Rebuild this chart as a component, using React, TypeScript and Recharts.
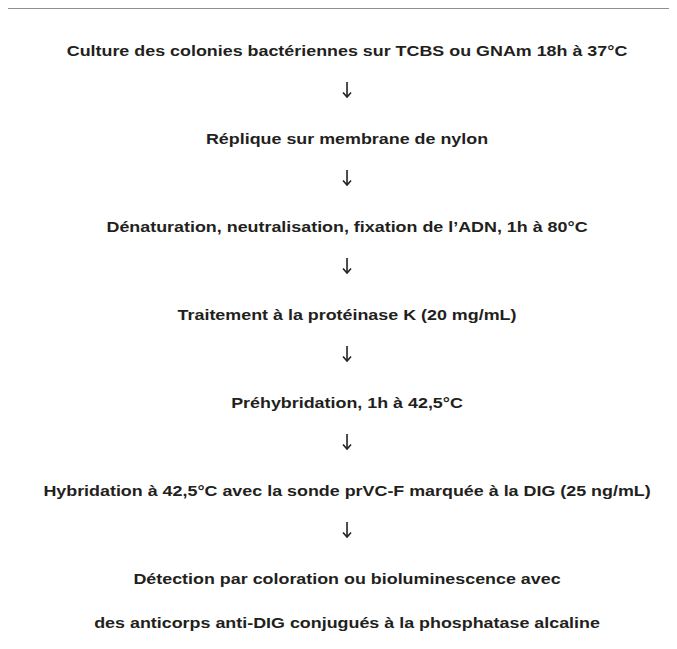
import { ReferenceLine, Scatter, ScatterChart, XAxis, YAxis } from "recharts";

// steps of the protocol, top to bottom
const steps = [
  "Culture des colonies bactériennes sur TCBS ou GNAm 18h à 37°C",
  "Réplique sur membrane de nylon",
  "Dénaturation, neutralisation, fixation de l’ADN, 1h à 80°C",
  "Traitement à la protéinase K (20 mg/mL)",
  "Préhybridation, 1h à 42,5°C",
  "Hybridation à 42,5°C avec la sonde prVC-F marquée à la DIG (25 ng/mL)",
  "Détection par coloration ou bioluminescence avec",
];
// continuation line of the last step (no arrow before it)
const lastLine = "des anticorps anti-DIG conjugués à la phosphatase alcaline";

const X_DOMAIN: [number, number] = [-0.0075, 0.9925];
const Y_DOMAIN: [number, number] = [-0.955, 13.614];

type Row = { x: number; row: number; label?: string };

const textRows: Row[] = [];
const arrowRows: Row[] = [];
steps.forEach((s, i) => {
  textRows.push({ x: 0.5, row: i * 2, label: s });
  if (i < steps.length - 1) arrowRows.push({ x: 0.5, row: i * 2 + 1 });
});
textRows.push({ x: 0.5, row: steps.length * 2 - 1, label: lastLine });

const FONT = "'Liberation Sans', Arial, Helvetica, sans-serif";
const INK = "#231f20";

function StepText(props: any) {
  const { cx, cy, payload } = props;
  return (
    <text
      transform={`translate(${cx} ${cy + 1}) scale(1.26 1)`}
      textAnchor="middle"
      dominantBaseline="central"
      fontFamily={FONT}
      fontWeight="bold"
      fontSize={14.2}
      fill={INK}
    >
      {payload.label}
    </text>
  );
}

// thin down arrow, sitting a little above the gap's midpoint
function DownArrow(props: any) {
  const { cx, cy } = props;
  const y = cy - 4;
  return (
    <g stroke={INK} strokeWidth={1.6} fill="none">
      <line x1={cx} y1={y - 8} x2={cx} y2={y + 7} />
      <path d={`M${cx - 4},${y + 2.5} L${cx},${y + 7} L${cx + 4},${y + 2.5}`} strokeLinejoin="miter" />
    </g>
  );
}

export default function App() {
  return (
    <div style={{ marginLeft: -2, marginTop: -1, width: 671, height: 642 }}>
      <ScatterChart width={671} height={642} margin={{ top: 1, right: 0, bottom: 0, left: 1 }}>
        <XAxis type="number" dataKey="x" domain={X_DOMAIN} hide allowDataOverflow />
        <YAxis type="number" dataKey="row" domain={Y_DOMAIN} reversed hide allowDataOverflow />
        <ReferenceLine y={Y_DOMAIN[0]} stroke="#222" strokeWidth={1.2} ifOverflow="visible" />
        <ReferenceLine
          segment={[{ x: X_DOMAIN[0], y: Y_DOMAIN[0] }, { x: X_DOMAIN[0], y: Y_DOMAIN[1] }]}
          stroke="#444"
          strokeWidth={1.6}
          ifOverflow="visible"
        />
        <Scatter data={textRows} shape={<StepText />} isAnimationActive={false} />
        <Scatter data={arrowRows} shape={<DownArrow />} isAnimationActive={false} />
      </ScatterChart>
    </div>
  );
}
